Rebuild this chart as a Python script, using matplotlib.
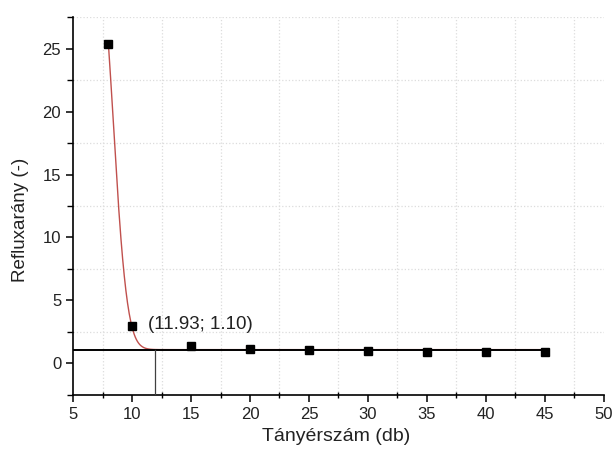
import numpy as np
import matplotlib
matplotlib.use("Agg")
import matplotlib.pyplot as plt
from matplotlib.ticker import MultipleLocator

plt.rcParams['font.family'] = ['Liberation Sans', 'DejaVu Sans']

# Measured reflux ratio vs. number of plates
plates = [8, 10, 15, 20, 25, 30, 35, 40, 45]
reflux = [25.35, 2.95, 1.35, 1.15, 1.05, 1.02, 0.92, 0.92, 0.88]

# Minimum point
min_plates = 11.93
min_reflux = 1.10

# Parameters of the fitted decay curve: y = y0 + A*exp(-k*d - q*d^2), d = x - x0
fit_x0 = 8.0
fit_y0 = 1.10
fit_A = 24.25
fit_k = 0.56
fit_q = 0.37

fig = plt.figure(figsize=(6.14, 4.55), dpi=100)
ax = fig.add_axes([0.1189, 0.1319, 0.8648, 0.8307])

ax.set_xlim(5, 50)
ax.set_ylim(-2.5, 27.5)

# light dotted grid on the minor positions
ax.xaxis.set_major_locator(MultipleLocator(5))
ax.xaxis.set_minor_locator(MultipleLocator(2.5))
ax.yaxis.set_major_locator(MultipleLocator(5))
ax.yaxis.set_minor_locator(MultipleLocator(2.5))
ax.grid(which='minor', color='#dcdcdc', linestyle=':', linewidth=0.9)
ax.grid(which='major', visible=False)
ax.set_axisbelow(True)

# fitted curve
xf = np.linspace(fit_x0, plates[-1], 800)
d = xf - fit_x0
yf = fit_y0 + fit_A * np.exp(-fit_k * d - fit_q * d ** 2)
ax.plot(xf, yf, color='#c0504d', linewidth=1.0, zorder=2)

# horizontal asymptote and vertical marker line
ax.plot([5, plates[-1]], [min_reflux, min_reflux], color='black', linewidth=1.4, zorder=3)
ax.plot([min_plates, min_plates], [-2.5, min_reflux], color='#404040', linewidth=0.9, zorder=3)

# measured points
ax.plot(plates, reflux, linestyle='none', marker='s', markersize=6,
        color='black', zorder=4)

ax.text(11.35, 3.1, f"({min_plates:.2f}; {min_reflux:.2f})", fontsize=13.5,
        va='center', ha='left', color='#222222')

for s in ['top', 'right']:
    ax.spines[s].set_visible(False)
for s in ['left', 'bottom']:
    ax.spines[s].set_linewidth(1.2)

ax.tick_params(axis='both', which='major', direction='out', length=5, width=1.1,
               labelsize=12, colors='black', labelcolor='#222222')
ax.tick_params(axis='x', which='minor', direction='inout', length=5, width=1.0)
ax.tick_params(axis='y', which='minor', direction='out', length=4, width=1.0)

ax.set_xlabel('Tányérszám (db)', fontsize=14, color='#222222')
ax.set_ylabel('Refluxarány (-)', fontsize=13.5, color='#222222')
ax.xaxis.set_label_coords(0.495, -0.087)
ax.yaxis.set_label_coords(-0.083, 0.463)

fig.savefig('out.png', dpi=100)
